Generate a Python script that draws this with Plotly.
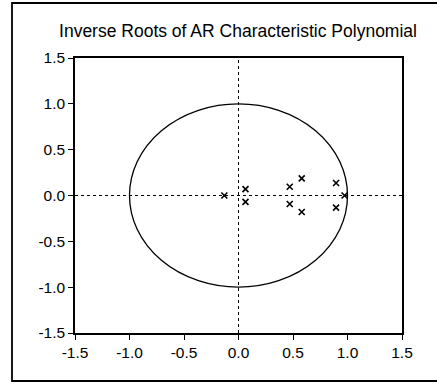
import numpy as np
import plotly.graph_objects as go

root_re = [-0.13, 0.064, 0.064, 0.47, 0.47, 0.58, 0.58, 0.895, 0.895, 0.973]
root_im = [0.0, 0.07, -0.07, 0.096, -0.093, 0.187, -0.18, 0.136, -0.133, 0.0]
tick_vals = [-1.5, -1.0, -0.5, 0.0, 0.5, 1.0, 1.5]
tick_text = ["-1.5", "-1.0", "-0.5", "0.0", "0.5", "1.0", "1.5"]
title = "Inverse Roots of AR Characteristic Polynomial"

W, H = 437, 384
L, R, T, B = 75, 402, 58, 333

fig = go.Figure()
fig.add_trace(go.Scatter(
    x=root_re, y=root_im, mode="markers",
    marker=dict(symbol="x-thin", size=6, line=dict(color="black", width=1.6)),
    showlegend=False, hoverinfo="x+y"))

def px_x(p):
    return (p - L) / (R - L)

def px_y(p):
    return (B - p) / (B - T)

fig.update_layout(
    width=W, height=H,
    margin=dict(l=L, r=W - R, t=T, b=H - B, pad=0),
    paper_bgcolor="white", plot_bgcolor="white",
    font=dict(family="Liberation Sans, Arial, sans-serif", color="black", size=15),
    title=dict(text=title, x=(238 - 0) / W, xanchor="center", xref="paper",
               y=1 - 31 / H, yanchor="middle",
               font=dict(size=17.5, family="Liberation Sans, Arial")),
    shapes=[
        dict(type="circle", xref="x", yref="y", x0=-1, x1=1, y0=-1, y1=1,
             line=dict(color="black", width=1.3), layer="below"),
        dict(type="line", xref="x", yref="y", x0=-1.5, x1=1.5, y0=0, y1=0,
             line=dict(color="black", width=1, dash="dot"), layer="below"),
        dict(type="line", xref="x", yref="y", x0=0, x1=0, y0=-1.5, y1=1.5,
             line=dict(color="black", width=1, dash="dot"), layer="below"),
        dict(type="rect", xref="paper", yref="paper",
             x0=px_x(12), x1=px_x(445), y0=px_y(381), y1=px_y(3),
             line=dict(color="black", width=1.8)),
    ],
)
fig.update_layout(title_xref="container")
axis_common = dict(
    range=[-1.5, 1.5], tickvals=tick_vals, ticktext=tick_text,
    showgrid=False, zeroline=False, showline=True, linecolor="black",
    linewidth=1.5, mirror=True, ticks="outside", ticklen=5, tickwidth=1.2,
    tickcolor="black", tickfont=dict(size=15.5))
fig.update_xaxes(**axis_common)
fig.update_yaxes(**axis_common)
fig.write_html("out.html")
